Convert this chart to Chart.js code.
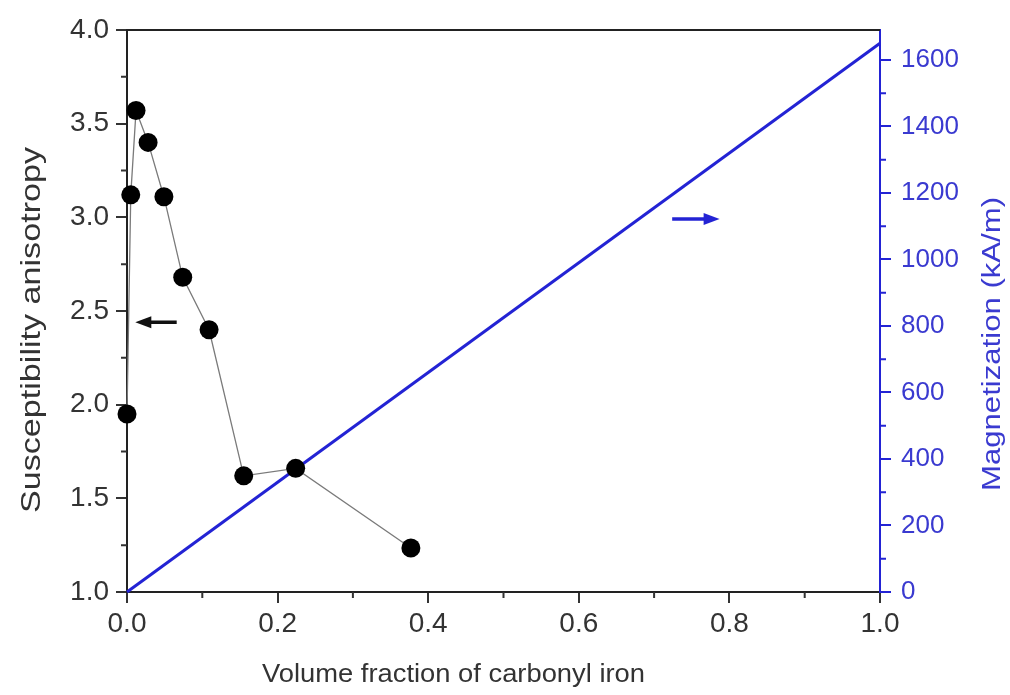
<!DOCTYPE html>
<html>
<head>
<meta charset="utf-8">
<script src="https://cdn.jsdelivr.net/npm/chart.js@4.4.1/dist/chart.umd.min.js"></script>
<style>
  html, body { margin: 0; padding: 0; background: #fff; }
  #c { display: block; }
</style>
</head>
<body>
<canvas id="c" width="1010" height="695"></canvas>
<script>
// data
var volFraction = [0.0, 0.005, 0.012, 0.028, 0.049, 0.074, 0.109, 0.155, 0.224, 0.377];
var anisotropy  = [1.95, 3.12, 3.57, 3.40, 3.11, 2.68, 2.40, 1.62, 1.66, 1.235];
var magX = [0.0, 1.0];
var magY = [0, 1650];

var xTicks  = [0, 0.2, 0.4, 0.6, 0.8, 1.0];
var yTicks  = [1.0, 1.5, 2.0, 2.5, 3.0, 3.5, 4.0];
var y1Ticks = [0, 200, 400, 600, 800, 1000, 1200, 1400, 1600];

// arrows: [xFrom, xTo, y]  (head at xTo)
var arrowLeft  = [0.066, 0.011, 2.44];
var arrowRight = [0.724, 0.787, 1122];

var FONT = "'Liberation Sans', Arial, sans-serif";
var BLUE = "#2323d4";
var BLUE_TXT = "#3a3ad0";
var GREY_TXT = "#333333";

function drawArrow(ctx, x1, x2, y, color) {
  var dir = x2 > x1 ? 1 : -1;
  ctx.save();
  ctx.strokeStyle = color;
  ctx.fillStyle = color;
  ctx.lineWidth = 3.5;
  ctx.beginPath();
  ctx.moveTo(x1, y);
  ctx.lineTo(x2 - dir * 10, y);
  ctx.stroke();
  ctx.beginPath();
  ctx.moveTo(x2, y);
  ctx.lineTo(x2 - dir * 16, y - 6);
  ctx.lineTo(x2 - dir * 16, y + 6);
  ctx.closePath();
  ctx.fill();
  ctx.restore();
}

// draw text stretched along its direction to a given length
function fitText(ctx, text, x, y, angle, len, align) {
  var w = ctx.measureText(text).width;
  ctx.save();
  ctx.translate(x, y);
  ctx.rotate(angle);
  ctx.scale(len / w, 1);
  ctx.textAlign = align;
  ctx.fillText(text, 0, 0);
  ctx.restore();
}

var decor = {
  id: "decor",
  afterDraw: function(chart) {
    var ctx = chart.ctx, a = chart.chartArea;
    var sx = chart.scales.x, sy = chart.scales.y, sy1 = chart.scales.y1;
    ctx.save();
    // top frame line
    ctx.strokeStyle = "#222";
    ctx.lineWidth = 2;
    ctx.beginPath();
    ctx.moveTo(a.left, a.top);
    ctx.lineTo(a.right, a.top);
    ctx.stroke();

    // minor ticks
    ctx.lineWidth = 2;
    ctx.strokeStyle = "#333";
    ctx.beginPath();
    for (var v = 0.1; v < 1; v += 0.2) {
      var px = sx.getPixelForValue(v);
      ctx.moveTo(px, a.bottom); ctx.lineTo(px, a.bottom + 6);
    }
    for (var w = 1.25; w < 4; w += 0.5) {
      var py = sy.getPixelForValue(w);
      ctx.moveTo(a.left, py); ctx.lineTo(a.left - 6, py);
    }
    ctx.stroke();
    ctx.strokeStyle = BLUE;
    ctx.beginPath();
    for (var m = 100; m < 1700; m += 200) {
      var pm = sy1.getPixelForValue(m);
      ctx.moveTo(a.right, pm); ctx.lineTo(a.right + 6, pm);
    }
    ctx.stroke();

    // arrows
    drawArrow(ctx, sx.getPixelForValue(arrowLeft[0]), sx.getPixelForValue(arrowLeft[1]),
              sy.getPixelForValue(arrowLeft[2]), "#111");
    drawArrow(ctx, sx.getPixelForValue(arrowRight[0]), sx.getPixelForValue(arrowRight[1]),
              sy1.getPixelForValue(arrowRight[2]), BLUE);

    // axis titles
    ctx.textBaseline = "middle";
    ctx.fillStyle = GREY_TXT;
    ctx.font = "26px " + FONT;
    fitText(ctx, "Volume fraction of carbonyl iron", 262, 675, 0, 383, "left");

    ctx.font = "28px " + FONT;
    fitText(ctx, "Susceptibility anisotropy", 32, 330, -Math.PI / 2, 366, "center");

    ctx.fillStyle = BLUE_TXT;
    ctx.font = "26px " + FONT;
    fitText(ctx, "Magnetization (kA/m)", 993, 344, -Math.PI / 2, 294, "center");

    ctx.restore();
  }
};

function pts(xs, ys) {
  return xs.map(function(x, i) { return { x: x, y: ys[i] }; });
}

new Chart(document.getElementById("c"), {
  type: "scatter",
  data: {
    datasets: [
      {
        label: "Magnetization",
        data: pts(magX, magY),
        yAxisID: "y1",
        showLine: true,
        borderColor: BLUE,
        borderWidth: 3,
        pointRadius: 0,
        clip: false,
        order: 2
      },
      {
        label: "Susceptibility anisotropy",
        data: pts(volFraction, anisotropy),
        yAxisID: "y",
        showLine: true,
        borderColor: "#7a7a7a",
        borderWidth: 1.3,
        pointRadius: 9.5,
        pointBackgroundColor: "#000",
        pointBorderColor: "#000",
        pointBorderWidth: 0,
        clip: false,
        order: 1
      }
    ]
  },
  options: {
    responsive: false,
    animation: false,
    layout: { padding: { top: 30, left: 0, right: 0, bottom: 0 } },
    plugins: { legend: { display: false }, tooltip: { enabled: false } },
    scales: {
      x: {
        type: "linear", position: "bottom", min: 0, max: 1,
        afterBuildTicks: function(s) { s.ticks = xTicks.map(function(v) { return { value: v }; }); },
        afterFit: function(s) { s.height = 103; },
        ticks: {
          padding: 4, color: GREY_TXT, font: { size: 28, family: FONT },
          callback: function(v) { return Number(v).toFixed(1); }
        },
        grid: { drawOnChartArea: false, drawTicks: true, tickLength: 11, color: "#333", lineWidth: 2 },
        border: { display: true, color: "#222", width: 2 }
      },
      y: {
        type: "linear", position: "left", min: 1, max: 4,
        afterBuildTicks: function(s) { s.ticks = yTicks.map(function(v) { return { value: v }; }); },
        afterFit: function(s) { s.width = 127; },
        ticks: {
          padding: 7, color: GREY_TXT, font: { size: 28, family: FONT },
          callback: function(v) { return Number(v).toFixed(1); }
        },
        grid: { drawOnChartArea: false, drawTicks: true, tickLength: 11, color: "#333", lineWidth: 2 },
        border: { display: true, color: "#222", width: 2 }
      },
      y1: {
        type: "linear", position: "right", min: 0, max: 1690,
        afterBuildTicks: function(s) { s.ticks = y1Ticks.map(function(v) { return { value: v }; }); },
        afterFit: function(s) { s.width = 130; },
        ticks: {
          padding: 10, color: BLUE_TXT, font: { size: 26, family: FONT },
          callback: function(v) { return String(v); }
        },
        grid: { drawOnChartArea: false, drawTicks: true, tickLength: 11, color: BLUE, lineWidth: 2 },
        border: { display: true, color: BLUE, width: 2 }
      }
    }
  },
  plugins: [decor]
});
</script>
</body>
</html>
